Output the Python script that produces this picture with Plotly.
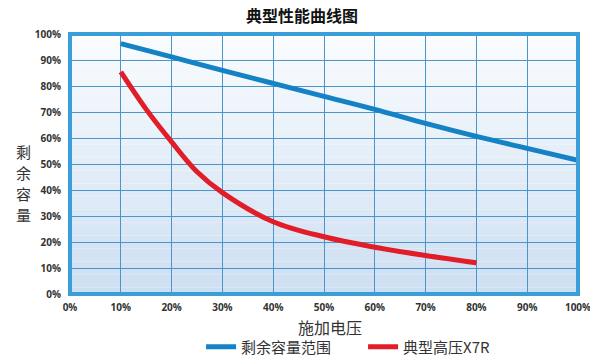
import plotly.graph_objects as go

title_text = "典型性能曲线图"
x_title = "施加电压"
y_title = "剩余容量"

series_names = ["剩余容量范围", "典型高压X7R"]

blue_x = [10, 20, 30, 40, 50, 60, 70, 80, 90, 100]
blue_y = [96.3, 91.2, 86.0, 81.0, 76.0, 71.0, 65.6, 60.6, 56.0, 51.4]

red_x = [10, 15, 20, 25, 30, 40, 50, 60, 70, 80]
red_y = [85.4, 71.0, 58.5, 47.0, 39.0, 27.8, 22.0, 18.0, 14.8, 12.0]

x_ticks = [0, 10, 20, 30, 40, 50, 60, 70, 80, 90, 100]
y_ticks = [0, 10, 20, 30, 40, 50, 60, 70, 80, 90, 100]

fig = go.Figure()
fig.add_trace(go.Scatter(x=blue_x, y=blue_y, mode="lines", name=series_names[0],
                         line=dict(color="#1482c5", width=5, shape="spline")))
fig.add_trace(go.Scatter(x=red_x, y=red_y, mode="lines", name=series_names[1],
                         line=dict(color="#e11d27", width=5, shape="spline")))

# gradient background strips
n = 40
top = (250, 252, 254)
bot = (205, 223, 242)
shapes = []
for i in range(n):
    t = i / (n - 1)
    c = tuple(int(round(top[k] + (bot[k] - top[k]) * t)) for k in range(3))
    shapes.append(dict(type="rect", xref="paper", yref="paper",
                       x0=0, x1=1, y0=1 - (i + 1) / n, y1=1 - i / n,
                       fillcolor="rgb(%d,%d,%d)" % c, line=dict(width=0), layer="below"))
shapes.append(dict(type="rect", xref="paper", yref="paper", x0=0, x1=1, y0=0, y1=1,
                   line=dict(color="#3a9ed8", width=4), layer="above"))

tickfont = dict(family="Open Sans", size=10, color="#333333", weight="bold")

annotations = [
    dict(text=title_text, xref="paper", yref="paper", x=0.457, y=1.075,
         xanchor="center", yanchor="middle",
         showarrow=False, font=dict(family="Noto Sans CJK SC", size=16, color="#111111", weight="bold")),
    dict(text=x_title, xref="paper", yref="paper", x=0.512, y=-0.127,
         xanchor="center", yanchor="middle",
         showarrow=False, font=dict(family="Noto Sans CJK SC", size=16, color="#333333")),
]
for i, ch in enumerate(y_title):
    annotations.append(dict(text=ch, xref="paper", yref="paper", x=-0.0925,
                            y=0.55 - i * 0.082, xanchor="center", yanchor="middle",
                            showarrow=False,
                            font=dict(family="Noto Sans CJK SC", size=15, color="#333333")))

fig.update_layout(
    width=590, height=347,
    margin=dict(l=62, r=20, t=26, b=61, autoexpand=False),
    paper_bgcolor="white", plot_bgcolor="white",
    shapes=shapes,
    showlegend=True,
    legend=dict(orientation="h", x=0.258, y=-0.204, xanchor="left", yanchor="middle",
                font=dict(family="Noto Sans CJK SC", size=15, color="#333333"),
                itemwidth=30, entrywidth=117, bgcolor="rgba(0,0,0,0)"),
    xaxis=dict(range=[0, 100], tickvals=x_ticks, ticktext=[f"{v}%" for v in x_ticks],
               showgrid=True, gridcolor="#4b95cc", gridwidth=1, zeroline=False,
               tickfont=tickfont, ticks="", ticklabelstandoff=6, automargin=False),
    yaxis=dict(range=[0, 100], tickvals=y_ticks, ticktext=[f"{v}%" for v in y_ticks],
               showgrid=True, gridcolor="#4b95cc", gridwidth=1, zeroline=False,
               tickfont=tickfont, ticks="", ticklabelstandoff=8, automargin=False),
    annotations=annotations,
)

fig.write_html("out.html")
